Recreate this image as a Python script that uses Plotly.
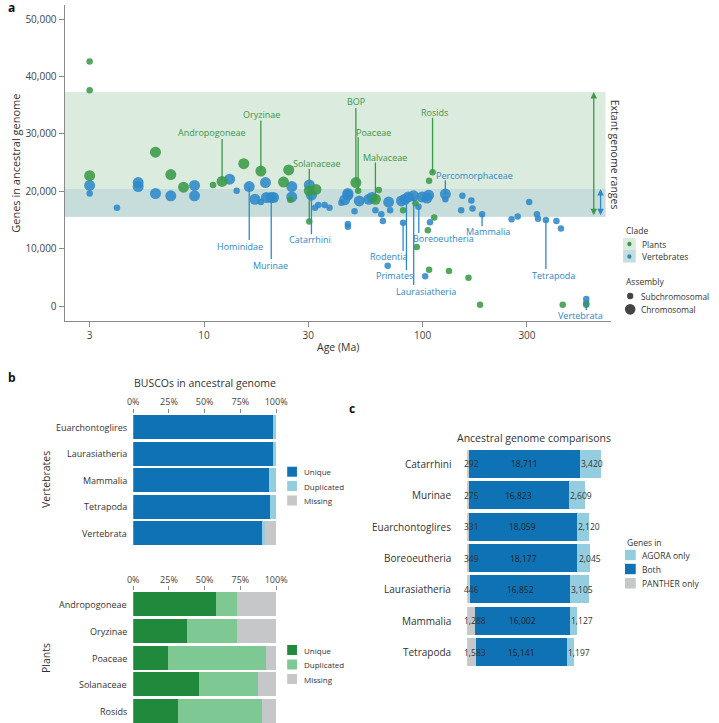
import math
import plotly.graph_objects as go

W, H = 719, 723
FONT = "Open Sans"

# ---------------- Panel a data ----------------
plant_age = [3, 3, 3, 6.0, 7.05, 8.06, 11.0, 12.1, 15.2, 18.2, 23.1, 24.4, 24.8, 30.3, 32.5, 30.3,
             49.5, 50.7, 60.8, 63, 81.4, 92.7, 94, 107, 111, 113, 105.6, 107, 132, 162, 183, 437, 560]
plant_genes = [42600, 37600, 22700, 26800, 22900, 20700, 21100, 21700, 24800, 23500, 21600, 23700, 18500,
               20100, 20300, 14700, 21500, 20100, 18600, 20200, 16700, 17900, 10300, 21800, 23300, 15400,
               13200, 6300, 6100, 4900, 200, 200, 200]
plant_chrom = [0, 0, 1, 1, 1, 1, 0, 1, 1, 1, 1, 1, 0, 1, 1, 0,
               1, 0, 1, 0, 0, 0, 0, 0, 0, 0, 0, 0, 0, 0, 0, 0, 0]

vert_age = [3, 3, 4.0, 5.0, 5.0, 6.0, 7.05, 9.05, 9.05, 13.1, 14.1, 16.1, 17.1, 18.2, 19.1, 19.3, 20.3, 20.8,
            25.2, 25.2, 30.3, 31, 32.2, 33.3, 35.6, 37.5, 42.5, 44, 45.5, 45.5, 45.5, 45.5, 48.8, 51.3, 56.8,
            58.7, 60.8, 64.7, 65.8, 69.9, 71, 69.2, 80, 81.4, 83, 86, 90.8, 95.7, 99.4, 104.6, 106.5, 108,
            102.7, 127, 127, 152, 150, 167, 169, 187, 255, 272, 307, 333, 337, 366, 409, 429, 560, 560]
vert_genes = [21000, 19600, 17100, 21500, 20800, 19600, 19200, 21000, 19200, 22100, 20100, 20800, 18600, 18100,
              21500, 18900, 18900, 18900, 20800, 19000, 21100, 19300, 17100, 17600, 17600, 17100, 18000, 18500,
              19300, 19600, 14300, 13800, 16500, 18300, 18600, 18900, 16700, 16000, 14800, 18100, 16700, 7000,
              18300, 14500, 18600, 19000, 19200, 17300, 19000, 18800, 19300, 14600, 5200, 19500, 18600, 19200,
              16700, 18400, 17000, 16000, 15100, 15600, 18100, 16000, 15200, 15000, 14800, 13500, 1200, 500]
vert_chrom = [1, 0, 0, 1, 1, 1, 1, 1, 1, 1, 0, 1, 1, 0, 1, 1, 1, 1,
              1, 1, 1, 1, 0, 0, 0, 0, 0, 1, 1, 1, 0, 0, 0, 1, 1,
              1, 0, 0, 0, 1, 0, 0, 1, 0, 1, 1, 1, 0, 1, 1, 1, 0,
              0, 1, 0, 0, 0, 0, 0, 0, 0, 0, 0, 0, 0, 0, 0, 0, 0, 0]

extant_plants = [15560, 37300]
extant_vert = [15560, 20380]

# labels: name, text age, text genes, line age, line y top, line y bottom
plant_labels = ["Andropogoneae", "Oryzinae", "Solanaceae", "BOP", "Poaceae", "Malvaceae", "Rosids"]
plant_lab_age = [10.9, 18.3, 33.0, 49.5, 59.8, 67.4, 113.6]
plant_lab_y = [30300, 33330, 24860, 35590, 30190, 25900, 33680]
plant_line_age = [12.1, 18.2, 30.3, 49.5, 50.7, 60.8, 111]
plant_line_top = [29100, 32300, 23900, 34500, 29400, 25000, 32800]
plant_line_bot = [21700, 23500, 14700, 21500, 20100, 18600, 23300]

vert_labels = ["Hominidae", "Murinae", "Catarrhini", "Percomorphaceae", "Mammalia", "Boreoeutheria",
               "Rodentia", "Primates", "Laurasiatheria", "Tetrapoda", "Vertebrata"]
vert_lab_age = [14.6, 20.2, 30.4, 172, 198, 124, 69.9, 74.3, 104, 395, 527]
vert_lab_y = [10450, 7140, 11500, 22700, 12940, 11720, 8540, 5350, 2610, 5350, -1690]
vert_line_age = [16.1, 20.3, 31, 127, 187, 96, 81.4, 84.3, 91, 366, 560]
vert_line_top = [20800, 18900, 19300, 21900, 16000, 17300, 14500, 18600, 19200, 15000, 500]
vert_line_bot = [11500, 8200, 12500, 19500, 13900, 12700, 9580, 6270, 3660, 6450, -700]

age_ticks = [3, 10, 30, 100, 300]
gene_ticks = [0, 10000, 20000, 30000, 40000, 50000]

# ---------------- Panel b data ----------------
busco_ticks = [0, 25, 50, 75, 100]
vert_clades = ["Euarchontoglires", "Laurasiatheria", "Mammalia", "Tetrapoda", "Vertebrata"]
vert_unique = [97.7, 97.7, 95.0, 95.9, 90.2]
vert_dup = [2.3, 2.3, 5.0, 4.1, 2.3]
vert_missing = [0.0, 0.0, 0.0, 0.0, 7.5]

plant_clades = ["Andropogoneae", "Oryzinae", "Poaceae", "Solanaceae", "Rosids"]
plant_unique = [58.3, 37.6, 24.6, 46.0, 31.7]
plant_dup = [14.4, 35.5, 68.1, 41.2, 58.3]
plant_missing = [27.3, 26.9, 7.3, 12.8, 10.0]

# ---------------- Panel c data ----------------
comp_clades = ["Catarrhini", "Murinae", "Euarchontoglires", "Boreoeutheria", "Laurasiatheria",
               "Mammalia", "Tetrapoda"]
panther_only = [292, 275, 331, 349, 446, 1288, 1583]
both = [18711, 16823, 18059, 18177, 16852, 16002, 15141]
agora_only = [3420, 2609, 2120, 2045, 3105, 1127, 1197]

# ---------------- colours ----------------
GREEN = "rgb(58,154,72)"
BLUE = "rgb(47,137,201)"
GREEN_TXT = "rgb(60,150,72)"
BLUE_TXT = "rgb(45,135,200)"
BAND_G = "rgb(219,235,221)"
BAND_B = "rgb(198,221,219)"
DKBLUE = "rgb(14,114,181)"
LTBLUE = "rgb(148,205,224)"
GREY = "rgb(198,199,200)"
DKGREEN = "rgb(33,137,60)"
LTGREEN = "rgb(126,200,147)"
TXT = "#333333"
AX = "#8a8a8a"


def X(px):
    return px / W


def Y(py):
    return 1 - py / H


fig = go.Figure()

# ---- panel a traces ----
for ages, genes, chrom, col in [(vert_age, vert_genes, vert_chrom, BLUE),
                                (plant_age, plant_genes, plant_chrom, GREEN)]:
    fig.add_trace(go.Scatter(
        x=ages, y=genes, mode="markers", xaxis="x", yaxis="y",
        marker=dict(size=[11 if c else 6.5 for c in chrom], color=col, opacity=0.88,
                    line=dict(width=0)),
        showlegend=False, hoverinfo="skip"))

for i in range(len(plant_labels)):
    fig.add_trace(go.Scatter(x=[plant_line_age[i]] * 2, y=[plant_line_top[i], plant_line_bot[i]],
                             mode="lines", line=dict(color=GREEN, width=1.3), xaxis="x", yaxis="y",
                             showlegend=False, hoverinfo="skip"))
for i in range(len(vert_labels)):
    fig.add_trace(go.Scatter(x=[vert_line_age[i]] * 2, y=[vert_line_top[i], vert_line_bot[i]],
                             mode="lines", line=dict(color=BLUE, width=1.3), xaxis="x", yaxis="y",
                             showlegend=False, hoverinfo="skip"))

# ---- panel b traces ----
idx5 = list(range(5))
for vals, col in [(vert_unique, DKBLUE), (vert_dup, LTBLUE), (vert_missing, GREY)]:
    fig.add_trace(go.Bar(x=vals, y=idx5, orientation="h", width=0.9, marker=dict(color=col, line=dict(width=0)),
                         xaxis="x2", yaxis="y2", showlegend=False, hoverinfo="skip"))
for vals, col in [(plant_unique, DKGREEN), (plant_dup, LTGREEN), (plant_missing, GREY)]:
    fig.add_trace(go.Bar(x=vals, y=idx5, orientation="h", width=0.9, marker=dict(color=col, line=dict(width=0)),
                         xaxis="x3", yaxis="y3", showlegend=False, hoverinfo="skip"))

# ---- panel c traces ----
idx7 = list(range(7))
for vals, col in [(panther_only, GREY), (both, DKBLUE), (agora_only, LTBLUE)]:
    fig.add_trace(go.Bar(x=vals, y=idx7, orientation="h", width=0.89, marker=dict(color=col, line=dict(width=0)),
                         xaxis="x4", yaxis="y4", showlegend=False, hoverinfo="skip"))

annotations = []
shapes = []


def pann(text, px, py, size=9, color=TXT, xanchor="center", yanchor="middle", angle=0):
    annotations.append(dict(text=text, x=X(px), y=Y(py), xref="paper", yref="paper", showarrow=False,
                            xanchor=xanchor, yanchor=yanchor, textangle=angle,
                            font=dict(family=FONT, size=size, color=color)))


# panel letters
pann("<b>a</b>", 0, 7.5, size=12, color="#111", xanchor="left")
pann("<b>b</b>", 0, 377, size=12, color="#111", xanchor="left")
pann("<b>c</b>", 349, 408, size=12, color="#111", xanchor="left")

# panel a texts
pann("Genes in ancestral genome", 10, 163, size=11, angle=-90)
pann("Age (Ma)", 340, 347, size=10.5)
pann("Extant genome ranges", 624, 155, size=10.5, angle=90)

for i, name in enumerate(plant_labels):
    annotations.append(dict(text=name, x=math.log10(plant_lab_age[i]), y=plant_lab_y[i], xref="x", yref="y",
                            showarrow=False, font=dict(family=FONT, size=9, color=GREEN_TXT)))
for i, name in enumerate(vert_labels):
    annotations.append(dict(text=name, x=math.log10(vert_lab_age[i]), y=vert_lab_y[i], xref="x", yref="y",
                            showarrow=False, font=dict(family=FONT, size=9, color=BLUE_TXT)))

# extant range arrows
for px_age, rng, col in [(606, extant_plants, GREEN), (651, extant_vert, BLUE)]:
    lx = math.log10(px_age)
    annotations.append(dict(text="", x=lx, y=rng[1], ax=lx, ay=rng[0], xref="x", yref="y", axref="x", ayref="y",
                            showarrow=True, arrowhead=2, arrowsize=1, arrowwidth=1.3, arrowcolor=col,
                            arrowside="end+start"))

# bands
shapes.append(dict(type="rect", xref="x domain", yref="y", x0=0, x1=0.9893, y0=extant_plants[0],
                   y1=extant_plants[1], fillcolor=BAND_G, line=dict(width=0), layer="below"))
shapes.append(dict(type="rect", xref="x domain", yref="y", x0=0, x1=0.9893, y0=extant_vert[0],
                   y1=extant_vert[1], fillcolor=BAND_B, line=dict(width=0), layer="below"))


def prect(x0, x1, y0, y1, col):
    shapes.append(dict(type="rect", xref="paper", yref="paper", x0=X(x0), x1=X(x1), y0=Y(y1), y1=Y(y0),
                       fillcolor=col, line=dict(width=0)))


def pcircle(cx, cy, r, col):
    shapes.append(dict(type="circle", xref="paper", yref="paper", x0=X(cx - r), x1=X(cx + r),
                       y0=Y(cy + r), y1=Y(cy - r), fillcolor=col, line=dict(width=0)))


# legend a
pann("Clade", 632.5, 230.7, size=8.5, xanchor="left")
prect(632, 645, 238, 250, BAND_G)
prect(632, 645, 250, 262.5, BAND_B)
pcircle(638.5, 244, 2.2, GREEN)
pcircle(638.5, 256.5, 2.2, BLUE)
pann("Plants", 649, 244, size=8.5, xanchor="left")
pann("Vertebrates", 649, 256.7, size=8.5, xanchor="left")
pann("Assembly", 632.5, 281.7, size=8.5, xanchor="left")
pcircle(639.3, 296, 3.2, "#444444")
pcircle(639.3, 309.3, 5.4, "#444444")
pann("Subchromosomal", 648.5, 296, size=8.3, xanchor="left")
pann("Chromosomal", 648.5, 309.3, size=8.3, xanchor="left")

# panel b texts
pann("BUSCOs in ancestral genome", 203.7, 382.7, size=10.5)
pann("Vertebrates", 41, 480, size=10.5, angle=-90)
pann("Plants", 41, 658, size=10.5, angle=-90)
vert_centers = [427 + 26.65 * i for i in range(5)]
plant_centers = [604.7 + 26.65 * i for i in range(5)]
for name, cy in zip(vert_clades, vert_centers):
    pann(name, 126, cy, size=9, xanchor="right")
for name, cy in zip(plant_clades, plant_centers):
    pann(name, 126, min(cy, 711), size=9, xanchor="right")

for labels, cols, ys in [(["Unique", "Duplicated", "Missing"], [DKBLUE, LTBLUE, GREY], [471.7, 486, 500.5]),
                         (["Unique", "Duplicated", "Missing"], [DKGREEN, LTGREEN, GREY], [650, 664.5, 679])]:
    for lab, col, cy in zip(labels, cols, ys):
        prect(288, 298, cy - 5, cy + 5, col)
        pann(lab, 303, cy, size=8, xanchor="left")

# panel c texts
pann("Ancestral genome comparisons", 540.7, 437.7, size=10.5)
for i, name in enumerate(comp_clades):
    annotations.append(dict(text=name, x=X(457.7), y=i, xref="paper", yref="y4", xanchor="right",
                            showarrow=False, font=dict(family=FONT, size=10, color=TXT)))
    annotations.append(dict(text=f"{panther_only[i]:,}", x=X(467.2), y=i, xref="paper", yref="y4",
                            xanchor="left", showarrow=False, font=dict(family=FONT, size=8.5, color=TXT)))
    annotations.append(dict(text=f"{both[i]:,}", x=panther_only[i] + both[i] / 2, y=i, xref="x4", yref="y4",
                            showarrow=False, font=dict(family=FONT, size=8.5, color="#222")))
    annotations.append(dict(text=f"{agora_only[i]:,}", x=panther_only[i] + both[i], y=i, xref="x4", yref="y4",
                            xanchor="left", xshift=-1, showarrow=False,
                            font=dict(family=FONT, size=8.5, color=TXT)))

pann("Genes in", 634, 542.7, size=8.5, xanchor="left")
for lab, col, cy in zip(["AGORA only", "Both", "PANTHER only"], [LTBLUE, DKBLUE, GREY], [555, 569, 583.3]):
    prect(634, 645, cy - 5.2, cy + 5.2, col)
    pann(lab, 649.3, cy, size=8.5, xanchor="left")

tickfont = dict(family=FONT, size=10, color="#444")
btickfont = dict(family=FONT, size=9, color="#444")

fig.update_layout(
    width=W, height=H, margin=dict(l=0, r=0, t=0, b=0),
    paper_bgcolor="white", plot_bgcolor="white",
    barmode="stack", showlegend=False,
    font=dict(family=FONT, color=TXT),
    annotations=annotations, shapes=shapes,
    xaxis=dict(type="log", range=[0.3624, 2.8629], domain=[X(60), X(620)], anchor="y",
               tickvals=age_ticks, ticktext=[str(t) for t in age_ticks], ticks="outside", ticklen=5,
               tickcolor=AX, showline=True, linecolor=AX, linewidth=1, showgrid=False, zeroline=False,
               tickfont=tickfont),
    yaxis=dict(range=[-2561, 52439], domain=[Y(320.7), Y(5)], anchor="x",
               tickvals=gene_ticks, tickformat=",", ticks="outside", ticklen=5, tickcolor=AX,
               showline=True, linecolor=AX, linewidth=1, showgrid=False, zeroline=False, tickfont=tickfont),
    xaxis2=dict(range=[0, 100], domain=[X(130.3), X(276.7)], anchor="y2", side="top",
                tickvals=busco_ticks, ticktext=[f"{t}%" for t in busco_ticks], ticks="outside", ticklen=4,
                tickcolor=AX, showline=False, showgrid=False, zeroline=False, tickfont=btickfont),
    yaxis2=dict(range=[4.5, -0.5], domain=[Y(546), Y(413.65)], anchor="x2", visible=False),
    xaxis3=dict(range=[0, 100], domain=[X(130.3), X(276.7)], anchor="y3", side="top",
                tickvals=busco_ticks, ticktext=[f"{t}%" for t in busco_ticks], ticks="outside", ticklen=4,
                tickcolor=AX, showline=False, showgrid=False, zeroline=False, tickfont=btickfont),
    yaxis3=dict(range=[4.438, -0.5], domain=[0, Y(591.4)], anchor="x3", visible=False),
    xaxis4=dict(range=[0, 24180], domain=[X(472.3), X(620)], anchor="y4", visible=False),
    yaxis4=dict(range=[6.5, -0.5], domain=[Y(668), Y(448)], anchor="x4", visible=False),
    bargap=0,
)

fig.write_html("out.html", config={"displayModeBar": False},
               post_script="document.body.style.margin='0';document.body.style.overflow='hidden';")
